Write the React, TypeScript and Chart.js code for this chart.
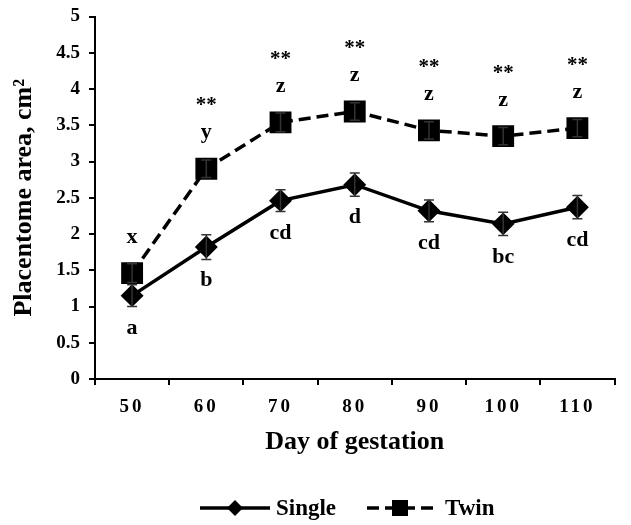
import React, { useEffect, useRef } from 'react';
import { Chart, registerables } from 'chart.js';

Chart.register(...registerables);

const categories = ['50', '60', '70', '80', '90', '100', '110'];
const singleValues = [1.15, 1.82, 2.46, 2.68, 2.32, 2.14, 2.37];
const singleErrors = [0.15, 0.17, 0.15, 0.16, 0.15, 0.16, 0.16];
const twinValues = [1.46, 2.9, 3.54, 3.69, 3.43, 3.35, 3.46];
const twinErrors = [0.13, 0.12, 0.13, 0.12, 0.12, 0.12, 0.12];
const singleLetters = ['a', 'b', 'cd', 'd', 'cd', 'bc', 'cd'];
const twinLetters = ['x', 'y', 'z', 'z', 'z', 'z', 'z'];
const significance = ['', '**', '**', '**', '**', '**', '**'];
const seriesNames = ['Single', 'Twin'];

const FONT = "'Liberation Serif', 'Times New Roman', serif";

const annotPlugin = {
  id: 'annot',
  afterDatasetsDraw(chart: any) {
    const { ctx } = chart;
    const x = chart.scales.x;
    const y = chart.scales.y;
    ctx.save();
    const sets: [number[], number[]][] = [
      [singleValues, singleErrors],
      [twinValues, twinErrors],
    ];
    sets.forEach(([vals, errs]) => {
      vals.forEach((v, i) => {
        const px = x.getPixelForValue(i);
        const top = y.getPixelForValue(v + errs[i]);
        const bot = y.getPixelForValue(v - errs[i]);
        ctx.strokeStyle = '#333';
        ctx.lineWidth = 1.5;
        ctx.beginPath();
        ctx.moveTo(px, top);
        ctx.lineTo(px, bot);
        ctx.moveTo(px - 5, top);
        ctx.lineTo(px + 5, top);
        ctx.moveTo(px - 5, bot);
        ctx.lineTo(px + 5, bot);
        ctx.stroke();
      });
    });
    ctx.fillStyle = '#000';
    ctx.textAlign = 'center';
    ctx.textBaseline = 'middle';
    ctx.font = `bold 22px ${FONT}`;
    singleValues.forEach((v, i) => {
      const px = x.getPixelForValue(i);
      const py = y.getPixelForValue(v);
      ctx.fillText(singleLetters[i], px, py + 33);
    });
    twinValues.forEach((v, i) => {
      const px = x.getPixelForValue(i);
      const py = y.getPixelForValue(v);
      ctx.font = `bold 22px ${FONT}`;
      ctx.fillText(twinLetters[i], px, py - 36);
      if (significance[i]) {
        ctx.font = `bold 21px ${FONT}`;
        ctx.fillText(significance[i], px, py - 63);
      }
    });
    ctx.restore();
  },
  afterDraw(chart: any) {
    const { ctx } = chart;
    ctx.save();
    const ly = 508;
    ctx.strokeStyle = '#000';
    ctx.fillStyle = '#000';
    ctx.lineWidth = 3.5;
    // Single
    ctx.setLineDash([]);
    ctx.beginPath();
    ctx.moveTo(200, ly);
    ctx.lineTo(270, ly);
    ctx.stroke();
    ctx.beginPath();
    ctx.moveTo(235 - 8, ly);
    ctx.lineTo(235, ly - 8);
    ctx.lineTo(235 + 8, ly);
    ctx.lineTo(235, ly + 8);
    ctx.closePath();
    ctx.fill();
    // Twin
    ctx.setLineDash([12, 6]);
    ctx.beginPath();
    ctx.moveTo(367, ly);
    ctx.lineTo(437, ly);
    ctx.stroke();
    ctx.setLineDash([]);
    ctx.fillRect(400 - 8, ly - 8, 16, 16);
    ctx.font = `bold 23px ${FONT}`;
    ctx.textAlign = 'left';
    ctx.textBaseline = 'middle';
    ctx.fillText(seriesNames[0], 276, ly + 1);
    ctx.fillText(seriesNames[1], 445, ly + 1);
    ctx.restore();
  },
  beforeDraw(chart: any) {
    const xs = chart.scales.x;
    if (xs && !xs.__patched) {
      const orig = xs.drawLabels.bind(xs);
      xs.drawLabels = (area: any) => {
        const c = chart.ctx;
        c.save();
        try {
          (c as any).letterSpacing = '3px';
        } catch (e) {}
        orig(area);
        c.restore();
      };
      xs.__patched = true;
    }
  },
};

export default function App() {
  const ref = useRef<HTMLCanvasElement | null>(null);
  useEffect(() => {
    if (!ref.current) return;
    const chart = new Chart(ref.current, {
      type: 'line',
      data: {
        labels: categories,
        datasets: [
          {
            label: seriesNames[0],
            data: singleValues,
            borderColor: '#000',
            backgroundColor: '#000',
            borderWidth: 3.5,
            pointStyle: 'rectRot',
            pointRadius: 9,
            pointBackgroundColor: '#000',
            pointBorderColor: '#000',
            tension: 0,
          },
          {
            label: seriesNames[1],
            data: twinValues,
            borderColor: '#000',
            backgroundColor: '#000',
            borderWidth: 3.5,
            borderDash: [12, 6],
            pointStyle: 'rect',
            pointRadius: 13,
            pointBackgroundColor: '#000',
            pointBorderColor: '#000',
            tension: 0,
          },
        ],
      },
      options: {
        responsive: false,
        animation: false,
        layout: { padding: { left: 0, top: 15, right: 5, bottom: 66 } },
        plugins: {
          legend: { display: false },
          tooltip: { enabled: false },
        },
        scales: {
          x: {
            type: 'category',
            offset: true,
            grid: {
              offset: true,
              drawOnChartArea: false,
              drawTicks: true,
              tickLength: 6,
              color: '#000',
              lineWidth: 2,
            },
            border: { display: true, color: '#000', width: 2 },
            ticks: {
              color: '#000',
              font: { family: FONT, size: 19, weight: 'bold' },
              padding: 11,
              maxRotation: 0,
            },
            title: {
              display: true,
              text: 'Day of gestation',
              color: '#000',
              font: { family: FONT, size: 26, weight: 'bold' },
              padding: { top: 0, bottom: 1 },
            },
            afterFit(s: any) {
              s.height = 80;
              s.paddingLeft = 0;
              s.paddingRight = 0;
            },
          },
          y: {
            min: 0,
            max: 5,
            ticks: {
              stepSize: 0.5,
              color: '#000',
              font: { family: FONT, size: 19, weight: 'bold' },
              padding: 9,
              callback: (v: any) => String(Number(v)),
            },
            grid: {
              drawOnChartArea: false,
              drawTicks: true,
              tickLength: 6,
              color: '#000',
              lineWidth: 2,
            },
            border: { display: true, color: '#000', width: 2 },
            title: {
              display: true,
              text: 'Placentome area, cm²',
              color: '#000',
              font: { family: FONT, size: 26, weight: 'bold' },
              padding: { top: 9, bottom: 0 },
            },
            afterFit(s: any) {
              s.width = 95;
              s.paddingTop = 0;
              s.paddingBottom = 0;
            },
          },
        },
      },
      plugins: [annotPlugin],
    } as any);
    return () => chart.destroy();
  }, []);
  return (
    <div style={{ position: 'fixed', left: 0, top: 0, width: 631, height: 525, background: '#fff' }}>
      <canvas ref={ref} width={631} height={525} />
    </div>
  );
}
